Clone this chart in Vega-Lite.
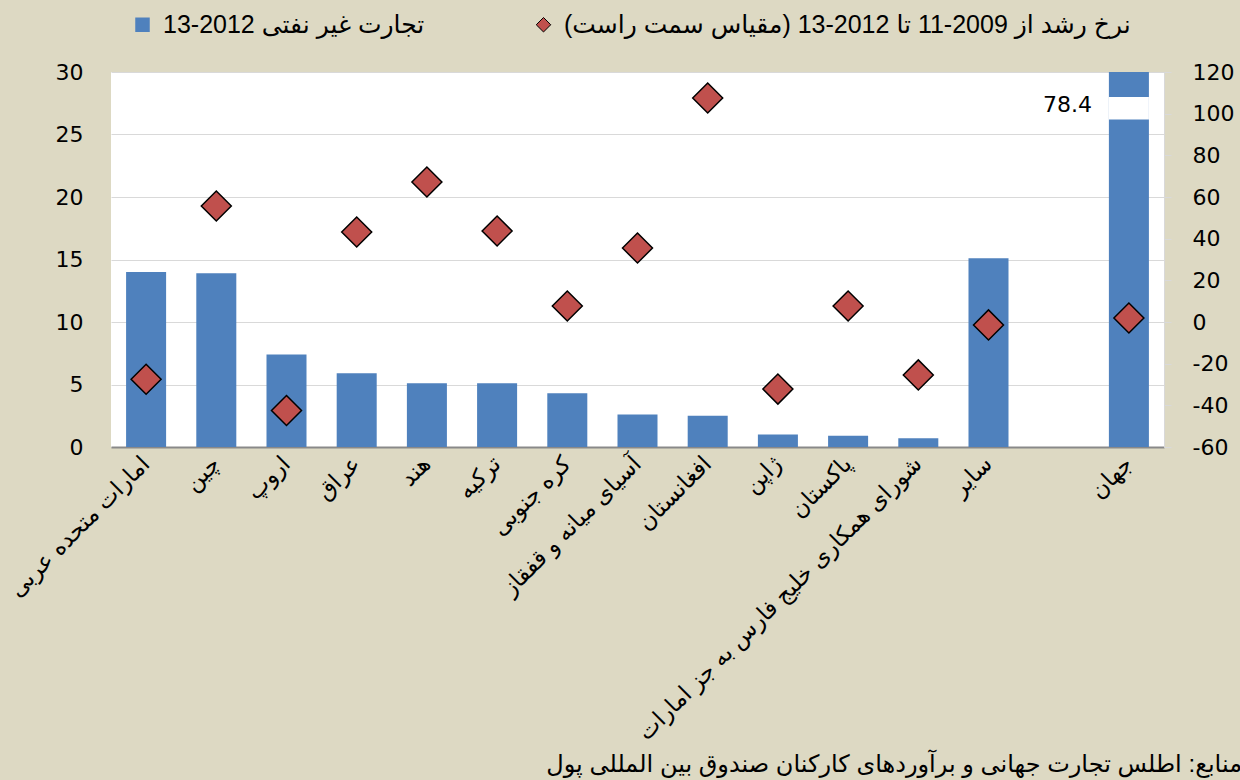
{
  "$schema": "https://vega.github.io/schema/vega-lite/v6.json",
  "width": 1053,
  "height": 375,
  "autosize": "none",
  "padding": {"left": 111, "top": 72, "right": 76, "bottom": 333},
  "background": "#DDD9C3",
  "title": {
    "text": "منابع: اطلس تجارت جهانی و برآوردهای کارکنان صندوق بین المللی پول",
    "orient": "bottom",
    "anchor": "end",
    "frame": "group",
    "offset": 8,
    "dx": 78,
    "fontSize": 24,
    "font": "Liberation Sans, DejaVu Sans",
    "fontWeight": "normal",
    "color": "black"
  },
  "data": {
    "values": [
      {"category": "امارات متحده عربی", "trade": 14.0, "growth": -27.5},
      {"category": "چین", "trade": 13.9, "growth": 55.7},
      {"category": "اروپ", "trade": 7.4, "growth": -42.5},
      {"category": "عراق", "trade": 5.9, "growth": 43.2},
      {"category": "هند", "trade": 5.1, "growth": 67.2},
      {"category": "ترکیه", "trade": 5.1, "growth": 43.7},
      {"category": "کره جنوبی", "trade": 4.3, "growth": 7.7},
      {"category": "آسیای میانه و قفقاز", "trade": 2.6, "growth": 35.5},
      {"category": "افغانستان", "trade": 2.5, "growth": 107.5},
      {"category": "ژاپن", "trade": 1.0, "growth": -32.2},
      {"category": "پاکستان", "trade": 0.9, "growth": 7.7},
      {"category": "شورای همکاری خلیج فارس به جز امارات", "trade": 0.7, "growth": -25.4},
      {"category": "سایر", "trade": 15.1, "growth": -1.4},
      {"category": " ", "trade": null, "growth": null},
      {"category": "جهان", "trade": 78.4, "growth": 1.9}
    ]
  },
  "encoding": {
    "x": {
      "field": "category",
      "type": "nominal",
      "sort": null,
      "title": null,
      "scale": {
        "domain": ["امارات متحده عربی", "چین", "اروپ", "عراق", "هند", "ترکیه", "کره جنوبی", "آسیای میانه و قفقاز", "افغانستان", "ژاپن", "پاکستان", "شورای همکاری خلیج فارس به جز امارات", "سایر", " ", "جهان"],
        "paddingInner": 0.43,
        "paddingOuter": 0.215
      },
      "axis": {
        "labelAngle": -45,
        "labelAlign": "right",
        "labelBaseline": "middle",
        "labelPadding": 13,
        "labelFont": "Liberation Sans, DejaVu Sans",
        "labelFontSize": 23,
        "labelColor": "black",
        "labelLimit": 800,
        "labelOverlap": false,
        "labelBound": false,
        "ticks": false,
        "domainColor": "#898989",
        "domainWidth": 2
      }
    }
  },
  "layer": [
    {
      "layer": [
        {
          "mark": {"type": "bar", "color": "#4F81BD"},
          "encoding": {
            "y": {
              "field": "trade",
              "type": "quantitative",
              "title": null,
              "scale": {"domain": [0, 30], "clamp": true, "nice": false, "zero": true},
              "axis": {
                "values": [0, 5, 10, 15, 20, 25, 30],
                "grid": true,
                "gridColor": "#D9D9D9",
                "gridWidth": 1,
                "ticks": false,
                "domain": false,
                "labelPadding": 28,
                "labelFont": "DejaVu Sans",
                "labelFontSize": 22,
                "labelColor": "black"
              }
            },
            "color": {
              "datum": "تجارت غیر نفتی 2012-13",
              "type": "nominal",
              "scale": {
                "domain": ["تجارت غیر نفتی 2012-13", "نرخ رشد از 2009-11 تا 2012-13 (مقیاس سمت راست)"],
                "range": ["#4F81BD", "#C0504D"]
              },
              "legend": {
                "title": null,
                "orient": "none",
                "direction": "horizontal",
                "legendX": 19,
                "legendY": -60,
                "padding": 0,
                "columnPadding": 106,
                "symbolSize": 210,
                "labelOffset": 8,
                "labelFont": "Liberation Sans, DejaVu Sans",
                "labelFontSize": 25,
                "labelColor": "black",
                "labelLimit": 900,
                "encode": {
                  "symbols": {
                    "update": {
                      "stroke": {"signal": "indexof(datum.label, 'نرخ') >= 0 ? 'black' : 'transparent'"},
                      "strokeWidth": {"value": 1}
                    }
                  }
                }
              }
            }
          }
        },
        {
          "transform": [{"filter": "datum.category === 'جهان'"}],
          "mark": {"type": "bar", "color": "white"},
          "encoding": {
            "y": {"datum": 26.2, "type": "quantitative", "title": null},
            "y2": {"datum": 28.0}
          }
        },
        {
          "transform": [{"filter": "datum.category === 'جهان'"}],
          "mark": {"type": "text", "align": "right", "baseline": "middle", "dx": -37, "font": "DejaVu Sans", "fontSize": 22, "color": "black"},
          "encoding": {
            "y": {"datum": 27.35, "type": "quantitative", "title": null},
            "text": {"field": "trade", "type": "quantitative", "format": ".1f"}
          }
        }
      ]
    },
    {
      "mark": {"type": "point", "shape": "diamond", "filled": true, "size": 900, "stroke": "black", "strokeWidth": 1.5, "opacity": 1},
      "encoding": {
        "y": {
          "field": "growth",
          "type": "quantitative",
          "title": null,
          "scale": {"domain": [-60, 120], "nice": false, "zero": false},
          "axis": {
            "orient": "right",
            "values": [-60, -40, -20, 0, 20, 40, 60, 80, 100, 120],
            "labelExpr": "datum.value < 0 ? '-' + abs(datum.value) : '' + datum.value",
            "grid": false,
            "ticks": true,
            "tickSize": 7,
            "tickColor": "#D9D9D9",
            "domain": true,
            "domainColor": "#D9D9D9",
            "labelPadding": 21,
            "labelFont": "DejaVu Sans",
            "labelFontSize": 22,
            "labelColor": "black"
          }
        },
        "color": {
          "datum": "نرخ رشد از 2009-11 تا 2012-13 (مقیاس سمت راست)",
          "type": "nominal"
        },
        "shape": {
          "datum": "نرخ رشد از 2009-11 تا 2012-13 (مقیاس سمت راست)",
          "type": "nominal",
          "scale": {
            "domain": ["تجارت غیر نفتی 2012-13", "نرخ رشد از 2009-11 تا 2012-13 (مقیاس سمت راست)"],
            "range": ["square", "diamond"]
          }
        }
      }
    }
  ],
  "resolve": {"scale": {"y": "independent"}},
  "config": {
    "view": {"fill": "white", "stroke": null}
  }
}
